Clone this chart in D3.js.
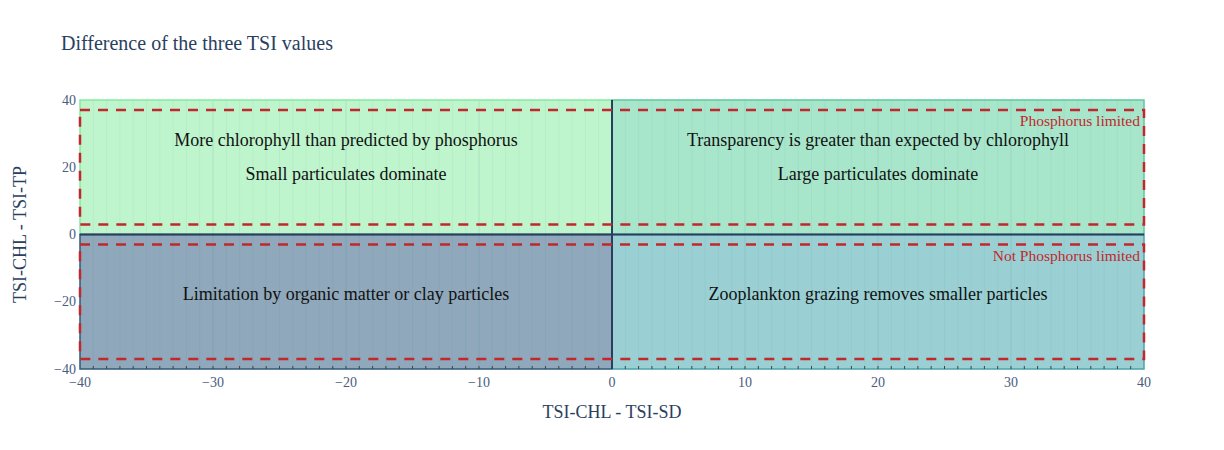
<!DOCTYPE html>
<html><head><meta charset="utf-8">
<script src="https://cdn.jsdelivr.net/npm/d3@7"></script>
<style>body{margin:0;background:#fff;}</style>
</head><body><svg id="c" width="1224" height="450" font-family="'Times New Roman', 'Liberation Serif', serif"></svg>
<script>
// ---- data ----
const title = "Difference of the three TSI values";
const xTitle = "TSI-CHL - TSI-SD";
const yTitle = "TSI-CHL - TSI-TP";
const xDomain = [-40, 40];
const yDomain = [-40, 40];
const xTickValues = [-40, -30, -20, -10, 0, 10, 20, 30, 40];
const yTickValues = [-40, -20, 0, 20, 40];
const quadX0 = [-40, 0, -40, 0];
const quadX1 = [0, 40, 0, 40];
const quadY0 = [0, 0, -40, -40];
const quadY1 = [40, 40, 0, 0];
const quadFill = ["#bff5cd", "#a8e6cb", "#8fa8bb", "#9ad0d3"];
const quadStroke = ["#86e9a0", "#5cc9a0", "#2f5a7a", "#4aa3ad"];
const bandY0 = [3, -37];
const bandY1 = [37, -3];
const annoText = ["More chlorophyll than predicted by phosphorus", "Small particulates dominate",
  "Transparency is greater than expected by chlorophyll", "Large particulates dominate",
  "Limitation by organic matter or clay particles", "Zooplankton grazing removes smaller particles"];
const annoX = [-20, -20, 20, 20, -20, 20];
const annoY = [28, 18, 28, 18, -17.7, -17.7];
const limText = ["Phosphorus limited", "Not Phosphorus limited"];
const limX = [39.7, 39.7];
const limY = [33.8, -6.3];

// ---- layout ----
const svg = d3.select("#c");
const L = 80, R = 1144, T = 100, B = 369;
const x = d3.scaleLinear().domain(xDomain).range([L, R]);
const y = d3.scaleLinear().domain(yDomain).range([B, T]);
const fmt = v => (v < 0 ? "\u2212" + Math.abs(v) : String(v));
const navy = "#2a3f5f";

// quadrants
svg.append("g").selectAll("rect").data(quadX0).join("rect")
  .attr("x", (d, i) => x(quadX0[i]))
  .attr("y", (d, i) => y(quadY1[i]))
  .attr("width", (d, i) => x(quadX1[i]) - x(quadX0[i]))
  .attr("height", (d, i) => y(quadY0[i]) - y(quadY1[i]))
  .attr("fill", (d, i) => quadFill[i])
  .attr("stroke", (d, i) => quadStroke[i])
  .attr("stroke-width", 1.5);

// faint vertical gridlines every unit
const gridVals = d3.range(xDomain[0] + 1, xDomain[1]);
svg.append("g").selectAll("line").data(gridVals).join("line")
  .attr("x1", d => x(d)).attr("x2", d => x(d))
  .attr("y1", T + 1).attr("y2", B - 1)
  .attr("stroke", d => d % 10 === 0 ? "rgba(40,110,120,0.12)" : "rgba(40,110,120,0.055)")
  .attr("stroke-width", 1);

// small inside ticks every unit on x axis
svg.append("g").selectAll("line").data(gridVals).join("line")
  .attr("x1", d => x(d)).attr("x2", d => x(d))
  .attr("y1", B - 3).attr("y2", B)
  .attr("stroke", "#444").attr("stroke-width", 1);

// zero lines
svg.append("line").attr("x1", x(0)).attr("x2", x(0)).attr("y1", T).attr("y2", B)
  .attr("stroke", navy).attr("stroke-width", 2);
svg.append("line").attr("x1", L).attr("x2", R).attr("y1", y(0)).attr("y2", y(0))
  .attr("stroke", navy).attr("stroke-width", 2);

// dashed bands
svg.append("g").selectAll("rect").data(bandY0).join("rect")
  .attr("x", x(xDomain[0]))
  .attr("y", (d, i) => y(bandY1[i]))
  .attr("width", x(xDomain[1]) - x(xDomain[0]))
  .attr("height", (d, i) => y(bandY0[i]) - y(bandY1[i]))
  .attr("fill", "none")
  .attr("stroke", "#c0282d")
  .attr("stroke-width", 2.5)
  .attr("stroke-dasharray", "10,8");

// annotations
svg.append("g").selectAll("text").data(annoText).join("text")
  .attr("x", (d, i) => x(annoX[i])).attr("y", (d, i) => y(annoY[i]))
  .attr("text-anchor", "middle").attr("dominant-baseline", "central")
  .attr("font-size", 18).attr("fill", "#111")
  .text(d => d);

svg.append("g").selectAll("text").data(limText).join("text")
  .attr("x", (d, i) => x(limX[i])).attr("y", (d, i) => y(limY[i]))
  .attr("text-anchor", "end").attr("dominant-baseline", "central")
  .attr("font-size", 15.5).attr("fill", "#c0282d")
  .text(d => d);

// axes tick labels
svg.append("g").selectAll("text").data(xTickValues).join("text")
  .attr("x", d => x(d)).attr("y", B + 18)
  .attr("text-anchor", "middle").attr("font-size", 14).attr("fill", "#4a5d7e")
  .text(fmt);
svg.append("g").selectAll("text").data(yTickValues).join("text")
  .attr("x", L - 4).attr("y", d => y(d))
  .attr("text-anchor", "end").attr("dominant-baseline", "central")
  .attr("font-size", 14).attr("fill", "#4a5d7e")
  .text(fmt);

// titles
svg.append("text").attr("x", 61).attr("y", 50).attr("font-size", 20).attr("fill", navy).text(title);
svg.append("text").attr("x", (L + R) / 2).attr("y", 418).attr("text-anchor", "middle")
  .attr("font-size", 18).attr("fill", navy).text(xTitle);
svg.append("text").attr("transform", `translate(26,${(T + B) / 2}) rotate(-90)`)
  .attr("text-anchor", "middle").attr("font-size", 18).attr("fill", navy).text(yTitle);
</script></body></html>
